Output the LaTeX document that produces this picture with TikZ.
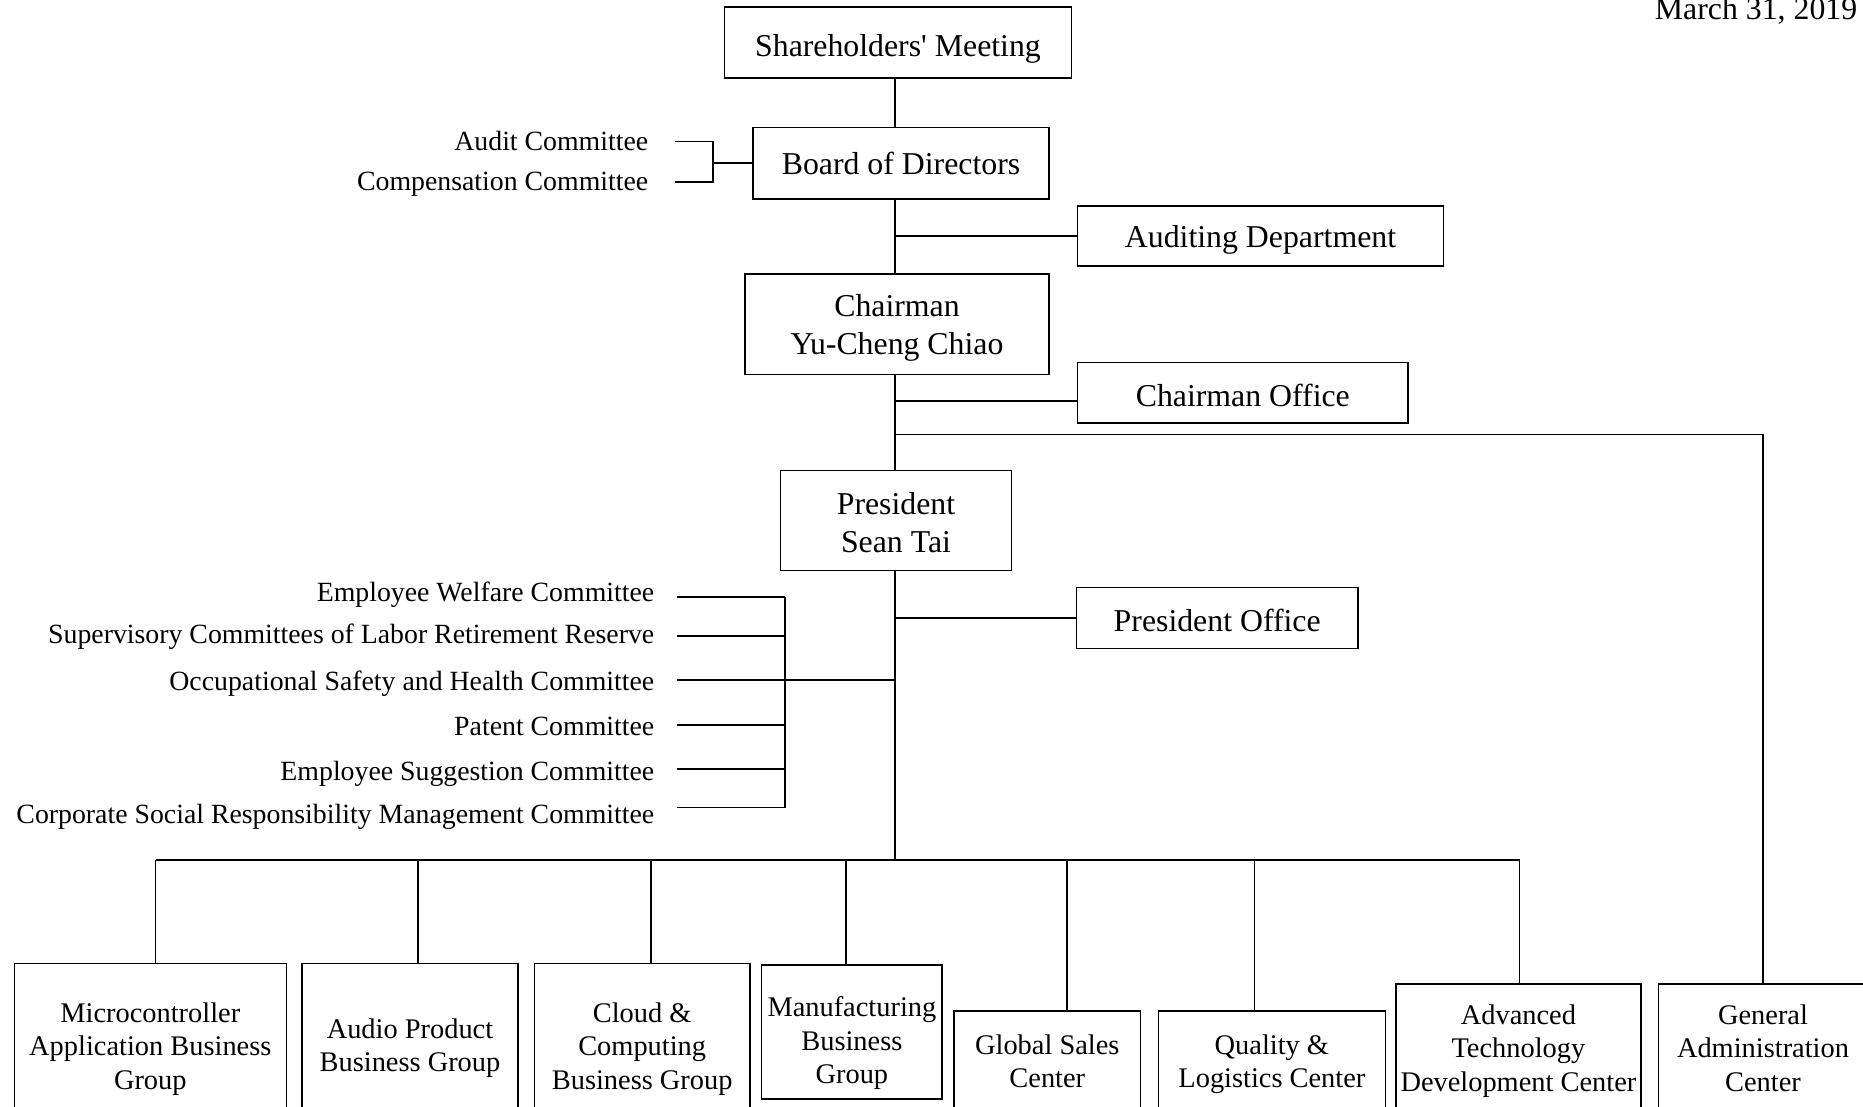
\documentclass[tikz,border=0pt]{standalone}
\usepackage{fontspec}
\setmainfont{Liberation Serif}
\usetikzlibrary{calc}
\begin{document}
\begin{tikzpicture}[x=0.5pt,y=-0.5pt,
  line width=0.8pt,
  orgbox/.style={draw,line width=0.8pt,inner sep=1pt,align=center,text depth=0pt,
    font=\fontsize{15.9}{19}\selectfont},
  unitbox/.style={draw,line width=0.8pt,inner sep=1pt,align=center,text depth=0pt,
    font=\fontsize{14.2}{16.6}\selectfont},
  cmte/.style={anchor=base east,inner sep=0pt,font=\fontsize{13.9}{16}\selectfont},
  link/.style={draw,line width=0.8pt}]
\useasboundingbox (0,0) rectangle (1863,1107);

% date
\node[anchor=base east,inner sep=0pt,font=\fontsize{15.9}{19}\selectfont] (date) at (1858,20) {March 31, 2019};

% main line of command
\node[orgbox,minimum width=173.5pt,minimum height=35.5pt,text height=13.4pt] (sh) at (898,42.8) {Shareholders\textquotesingle\ Meeting};
\node[orgbox,minimum width=148pt,minimum height=35.8pt] (bd) at (901,163.2) {Board of Directors};
\node[orgbox,minimum width=183pt,minimum height=30pt] (aud) at (1260.5,236) {Auditing Department};
\node[orgbox,minimum width=152pt,minimum height=50pt] (ch) at (897,324.3) {Chairman\\Yu-Cheng Chiao};
\node[orgbox,minimum width=165.2pt,minimum height=30.3pt,text height=13.4pt] (cho) at (1242.8,392.7) {Chairman Office};
\node[orgbox,minimum width=115.5pt,minimum height=50pt] (pr) at (896,520.4) {\rule{0pt}{13.4pt}President\\Sean Tai};
\node[orgbox,minimum width=140.8pt,minimum height=30.4pt,text height=13.4pt] (pro) at (1217.2,618) {President Office};

% trunk
\coordinate (T) at (895,0);
\coordinate (bus) at (895,860);
\draw[link] (sh.south -| T) -- (bd.north -| T);
\draw[link] (bd.south -| T) -- (ch.north -| T);
\draw[link] (ch.south -| T) -- (pr.north -| T);
\draw[link] (pr.south -| T) -- (bus);
\draw[link] (T |- aud.west) -- (aud.west);
\draw[link] ([yshift=-4pt]T |- cho.west) -- ([yshift=-4pt]cho.west);
\draw[link] (T |- pro.west) -- (pro.west);

% board committees
\node[cmte] (ac1) at (649,150.5) {Audit Committee};
\node[cmte] (ac2) at (649,190.5) {Compensation Committee};
\coordinate (ab) at (713,0);
\coordinate (a1) at (675,141.7);
\coordinate (a2) at (675,182.3);
\draw[link] (a1) -- (a1 -| ab) -- (a2 -| ab) -- (a2);
\draw[link] (bd.west -| ab) -- (bd.west);

% president committees
\node[cmte] (c1) at (655,601.7) {Employee Welfare Committee};
\node[cmte] (c2) at (655,643) {Supervisory Committees of Labor Retirement Reserve};
\node[cmte] (c3) at (655,690) {Occupational Safety and Health Committee};
\node[cmte] (c4) at (655,735) {Patent Committee};
\node[cmte] (c5) at (655,780) {Employee Suggestion Committee};
\node[cmte] (c6) at (655,823) {Corporate Social Responsibility Management Committee};
\coordinate (cb) at (785,680);
\foreach \n/\y in {1/596.7,2/636,3/680,4/725,5/769,6/807.5}
  \coordinate (l\n) at (677,\y);
\foreach \n in {1,...,6}
  \draw[link] (l\n) -- (l\n -| cb);
\draw[link] (l1 -| cb) -- (l6 -| cb);
\draw[link] (cb) -- (cb -| T);

% business groups and centers
\node[unitbox,minimum width=136pt,minimum height=82.5pt] (b1) at (150.3,1046) {Microcontroller\\Application Business\\Group};
\node[unitbox,minimum width=108.1pt,minimum height=82pt] (b2) at (410,1045.5) {Audio Product\\Business Group};
\node[unitbox,minimum width=107.6pt,minimum height=82.5pt] (b3) at (642.2,1046) {Cloud \&\\Computing\\Business Group};
\node[unitbox,minimum width=90.3pt,minimum height=67.2pt] (b4) at (851.9,1032) {\rule{0pt}{18pt}Manufacturing\\Business\\Group};
\node[unitbox,minimum width=93.3pt,minimum height=50pt] (b5) at (1047.3,1061) {Global Sales\\Center};
\node[unitbox,minimum width=113.5pt,minimum height=50pt] (b6) at (1271.9,1061) {Quality \&\\Logistics Center};
\node[unitbox,minimum width=122.4pt,minimum height=64.3pt] (b7) at (1518.4,1048) {Advanced\\Technology\\Development Center};
\node[unitbox,minimum width=104.5pt,minimum height=64.3pt] (b8) at (1763,1048) {General\\Administration\\Center};

% drop points on the bus
\coordinate (d1) at (155.6,860);
\coordinate (d2) at (418.2,860);
\coordinate (d3) at (651,860);
\coordinate (d4) at (845.9,860);
\coordinate (d5) at (1067,860);
\coordinate (d6) at (1254.6,860);
\coordinate (d7) at (1519.6,860);
\draw[link] (d1) -- (d7);
\draw[link] (d1) -- (d1 |- b1.north);
\draw[link] (d2) -- (d2 |- b2.north);
\draw[link] (d3) -- (d3 |- b3.north);
\draw[link] (d4) -- (d4 |- b4.north);
\draw[link] (d5) -- (d5 |- b5.north);
\draw[link] (d6) -- (d6 |- b6.north);
\draw[link] (d7) -- (d7 |- b7.north);

% general administration reports to the chairman
\coordinate (gaj) at (895,434.5);
\draw[link] (gaj) -- (gaj -| b8.north) -- (b8.north);
\end{tikzpicture}
\end{document}
